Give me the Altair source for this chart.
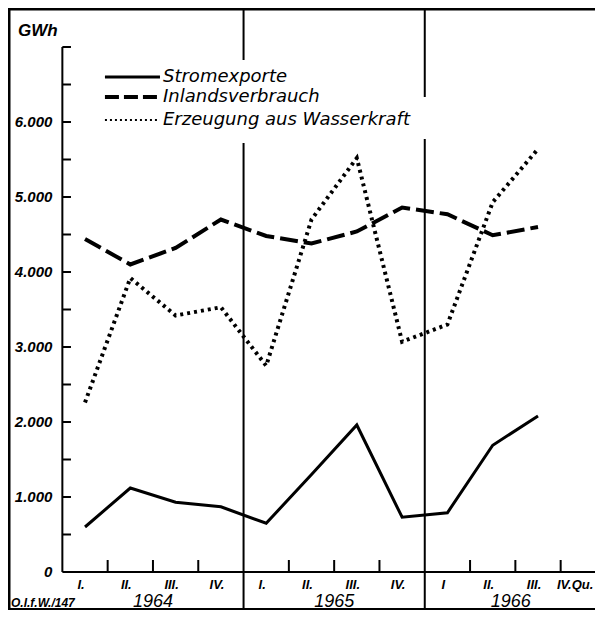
import altair as alt
import pandas as pd

# ---- data ----
quarter_idx = list(range(11))  # 1964 I ... 1966 III
stromexporte = [600, 1120, 930, 870, 650, 1300, 1960, 730, 790, 1690, 2080]
inlandsverbrauch = [4440, 4100, 4320, 4700, 4480, 4380, 4540, 4860, 4770, 4490, 4600]
wasserkraft = [2260, 3920, 3420, 3530, 2750, 4700, 5520, 3070, 3300, 4930, 5640]

quarter_labels = ["I.", "II.", "III.", "IV.", "I.", "II.", "III.", "IV.", "I", "II.", "III.", "IV.Qu."]
year_labels = ["1964", "1965", "1966"]
year_pos = [1.5, 5.5, 9.4]
y_tick_values = list(range(500, 7001, 500))
y_label_values = list(range(0, 6001, 1000))
x_tick_values = [0.5, 1.5, 2.5, 4.5, 5.5, 6.5, 8.5, 9.5, 10.5]
separator_values = [3.5, 7.5]
series_names = ["Stromexporte", "Inlandsverbrauch", "Erzeugung aus Wasserkraft"]

FONT = "DejaVu Sans"
LFONT = "Liberation Sans"
W, H = 587, 602
X = alt.Scale(domain=[-1.70, 11.258], nice=False, zero=False)
Y = alt.Scale(domain=[-506.7, 7520], nice=False, zero=False)


def xq(field="x"):
    return alt.X(f"{field}:Q", scale=X, axis=None)


def yq(field="y"):
    return alt.Y(f"{field}:Q", scale=Y, axis=None)


def fmt(v):
    return "0" if v == 0 else f"{v // 1000}.{v % 1000:03d}"


def series_df(vals):
    return pd.DataFrame({"x": quarter_idx, "y": vals})


layers = []

# separators (year dividers), full height
sep_df = pd.DataFrame({"x": separator_values})
layers.append(alt.Chart(sep_df).mark_rule(color="black", strokeWidth=2).encode(
    x=xq(), y=alt.value(0), y2=alt.value(H)))

# white boxes behind legend (interrupt the dividers)
box_df = pd.DataFrame({"x": [0.33, 4.75], "x2": [4.75, 7.73],
                       "y": [6827, 6333], "y2": [5720, 5773]})
layers.append(alt.Chart(box_df).mark_rect(color="white").encode(
    x=xq(), x2="x2:Q", y=yq(), y2="y2:Q"))

# frame
frame_df = pd.DataFrame({"k": [0]})
layers.append(alt.Chart(frame_df).mark_rule(color="black", strokeWidth=3).encode(
    x=alt.value(1), y=alt.value(0), y2=alt.value(H)))
layers.append(alt.Chart(frame_df).mark_rule(color="black", strokeWidth=3).encode(
    x=alt.value(0), x2=alt.value(W), y=alt.value(1)))
layers.append(alt.Chart(frame_df).mark_rule(color="black", strokeWidth=2).encode(
    x=alt.value(0), x2=alt.value(W), y=alt.value(H - 1)))

# y axis line and ticks
yax_df = pd.DataFrame({"x": [-0.5], "y": [0], "y2": [7000]})
layers.append(alt.Chart(yax_df).mark_rule(color="black", strokeWidth=2).encode(
    x=xq(), y=yq(), y2="y2:Q"))
ytick_df = pd.DataFrame({"x": [-0.5] * len(y_tick_values), "x2": [-0.31] * len(y_tick_values),
                         "y": y_tick_values})
layers.append(alt.Chart(ytick_df).mark_rule(color="black", strokeWidth=2).encode(
    x=xq(), x2="x2:Q", y=yq()))
ylab_df = pd.DataFrame({"x": [-0.5] * len(y_label_values), "y": y_label_values,
                        "t": [fmt(v) for v in y_label_values]})
layers.append(alt.Chart(ylab_df).mark_text(
    align="right", baseline="middle", dx=-10, font=LFONT, fontSize=15,
    fontStyle="italic", fontWeight="bold", color="black").encode(
    x=xq(), y=yq(), text="t:N"))

# x axis line and ticks
xax_df = pd.DataFrame({"x": [-0.5], "y": [0]})
layers.append(alt.Chart(xax_df).mark_rule(color="black", strokeWidth=2).encode(
    x=xq(), x2=alt.value(W), y=yq()))
xtick_df = pd.DataFrame({"x": x_tick_values, "y": [0] * len(x_tick_values),
                         "y2": [160] * len(x_tick_values)})
layers.append(alt.Chart(xtick_df).mark_rule(color="black", strokeWidth=2).encode(
    x=xq(), y=yq(), y2="y2:Q"))

# quarter labels (last one right-aligned so it stays inside the page)
ql_df = pd.DataFrame({"x": list(range(11)), "y": [0] * 11, "t": quarter_labels[:11]})
layers.append(alt.Chart(ql_df).mark_text(
    align="center", baseline="middle", dy=13, dx=-4, font=LFONT, fontSize=13,
    fontStyle="italic", fontWeight="bold", color="black").encode(
    x=xq(), y=yq(), text="t:N"))
ql_last = pd.DataFrame({"x": [11], "y": [0], "t": quarter_labels[11:]})
layers.append(alt.Chart(ql_last).mark_text(
    align="right", baseline="middle", dy=13, dx=10, font=LFONT, fontSize=13,
    fontStyle="italic", fontWeight="bold", color="black").encode(
    x=xq(), y=yq(), text="t:N"))

# year labels
yl_df = pd.DataFrame({"x": year_pos, "y": [0] * 3, "t": year_labels})
layers.append(alt.Chart(yl_df).mark_text(
    align="center", baseline="middle", dy=30, font=LFONT, fontSize=18,
    fontStyle="italic", color="black").encode(
    x=xq(), y=yq(), text="t:N"))

# source note and unit
note_df = pd.DataFrame({"t": ["O.I.f.W./147"]})
layers.append(alt.Chart(note_df).mark_text(
    align="left", baseline="middle", font=LFONT, fontSize=12,
    fontStyle="italic", fontWeight="bold", color="black").encode(
    x=alt.value(3), y=alt.value(595), text="t:N"))
unit_df = pd.DataFrame({"t": ["GWh"]})
layers.append(alt.Chart(unit_df).mark_text(
    align="left", baseline="middle", font=LFONT, fontSize=17,
    fontStyle="italic", fontWeight="bold", color="black").encode(
    x=alt.value(10), y=alt.value(23), text="t:N"))

# data lines
styles = [
    (stromexporte, dict(strokeWidth=3)),
    (inlandsverbrauch, dict(strokeWidth=4, strokeDash=[18, 6])),
    (wasserkraft, dict(strokeWidth=4, strokeDash=[3, 4])),
]
for vals, st in styles:
    layers.append(alt.Chart(series_df(vals)).mark_line(color="black", **st).encode(
        x=xq(), y=yq()))

# legend
leg_y = [6600, 6333, 6027]
leg_styles = [dict(strokeWidth=3), dict(strokeWidth=4, strokeDash=[14, 5]),
              dict(strokeWidth=2, strokeDash=[2, 3])]
for i, name in enumerate(series_names):
    ldf = pd.DataFrame({"x": [0.44], "x2": [1.655], "y": [leg_y[i]], "t": [name]})
    layers.append(alt.Chart(ldf).mark_rule(color="black", **leg_styles[i]).encode(
        x=xq(), x2="x2:Q", y=yq()))
    layers.append(alt.Chart(ldf).mark_text(
        align="left", baseline="middle", dx=3, font=FONT, fontSize=18,
        fontStyle="italic", color="black").encode(
        x=alt.X("x2:Q", scale=X, axis=None), y=yq(), text="t:N"))

chart = alt.layer(*layers).properties(
    width=W, height=H, autosize=alt.AutoSizeParams(type="none"), padding=0
).configure_view(stroke=None)

chart.save("out.html", embed_options={"renderer": "svg", "actions": False})
